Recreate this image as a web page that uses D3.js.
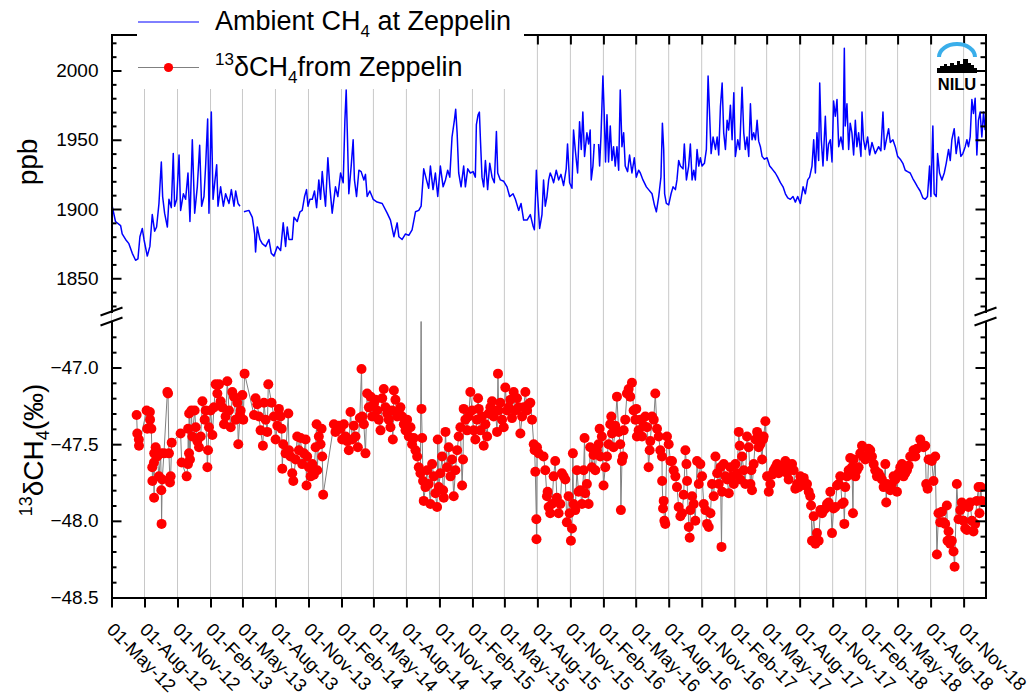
<!DOCTYPE html>
<html>
<head>
<meta charset="utf-8">
<title>Zeppelin CH4</title>
<script src="https://cdn.jsdelivr.net/npm/d3@7"></script>
<style>
body { margin: 0; background: #fff; }
svg { display: block; font-family: "Liberation Sans", Arial, sans-serif; }
</style>
</head>
<body>
<div id="chart"></div>
<script>
// Ambient CH4 at Zeppelin (decimal year, ppb); null = gap in record
var ch4Year = [
2012.336,2012.361,2012.400,2012.412,2012.438,2012.463,2012.489,2012.514,2012.532,2012.547,
2012.565,2012.578,2012.603,2012.623,2012.641,2012.659,2012.674,2012.692,2012.710,2012.720,
2012.735,2012.756,2012.768,2012.786,2012.801,2012.811,2012.827,2012.845,2012.857,2012.878,
2012.895,2012.913,2012.928,2012.946,2012.964,2012.984,2013.002,2013.017,2013.035,2013.048,
2013.063,2013.073,2013.091,2013.104,2013.117,2013.132,2013.142,2013.162,2013.183,2013.200,
2013.226,2013.244,2013.264,2013.277,2013.295,2013.310,2013.325,2013.340,2013.378,2013.404,
2013.422,2013.429,2013.442,2013.462,2013.480,2013.506,2013.531,2013.549,2013.569,2013.595,
2013.620,2013.640,2013.658,2013.671,2013.684,2013.709,2013.722,2013.747,2013.768,2013.785,
2013.803,2013.818,2013.829,2013.844,2013.862,2013.879,2013.895,2013.912,2013.925,2013.938,
2013.950,2013.963,2013.981,2013.996,2014.014,2014.039,2014.057,2014.078,2014.098,2014.111,
2014.121,2014.131,2014.141,2014.159,2014.174,2014.184,2014.200,2014.218,2014.235,2014.256,
2014.268,2014.281,2014.301,2014.327,2014.357,2014.396,2014.434,2014.459,2014.485,2014.510,
2014.523,2014.548,2014.574,2014.599,2014.624,2014.650,2014.675,2014.693,2014.713,2014.734,
2014.751,2014.764,2014.784,2014.802,2014.820,2014.840,2014.861,2014.879,2014.896,2014.912,
2014.929,2014.947,2014.957,2014.968,2014.980,2014.998,2015.018,2015.031,2015.049,2015.069,
2015.090,2015.107,2015.115,2015.128,2015.138,2015.146,2015.158,2015.171,2015.184,2015.201,
2015.217,2015.235,2015.252,2015.268,2015.278,2015.298,2015.324,2015.349,2015.369,2015.395,
2015.413,2015.438,2015.456,2015.476,2015.502,2015.527,2015.547,2015.558,2015.573,2015.583,
2015.598,2015.616,2015.628,2015.641,2015.654,2015.667,2015.679,2015.692,2015.705,2015.725,
2015.743,2015.761,2015.781,2015.801,2015.811,2015.827,2015.845,2015.857,2015.870,2015.888,
2015.903,2015.916,2015.928,2015.941,2015.959,2015.972,2015.984,2015.992,2016.005,2016.015,
2016.030,2016.048,2016.056,2016.066,2016.081,2016.091,2016.101,2016.112,2016.124,2016.137,
2016.150,2016.162,2016.175,2016.188,2016.201,2016.213,2016.226,2016.239,2016.251,2016.269,
2016.284,2016.302,2016.320,2016.335,2016.353,2016.366,2016.386,2016.412,2016.429,2016.455,
2016.473,2016.488,2016.506,2016.523,2016.534,2016.544,2016.551,2016.564,2016.582,2016.600,
2016.615,2016.633,2016.645,2016.658,2016.671,2016.691,2016.701,2016.717,2016.734,2016.747,
2016.760,2016.773,2016.785,2016.798,2016.811,2016.823,2016.836,2016.854,2016.869,2016.882,
2016.892,2016.905,2016.920,2016.938,2016.951,2016.963,2016.976,2016.989,2017.001,2017.014,
2017.027,2017.039,2017.052,2017.065,2017.078,2017.090,2017.108,2017.123,2017.141,2017.154,
2017.166,2017.179,2017.192,2017.205,2017.217,2017.230,2017.243,2017.256,2017.268,2017.281,
2017.294,2017.312,2017.332,2017.352,2017.370,2017.395,2017.413,2017.434,2017.454,2017.472,
2017.490,2017.510,2017.530,2017.548,2017.566,2017.586,2017.607,2017.624,2017.642,2017.657,
2017.675,2017.688,2017.701,2017.713,2017.726,2017.734,2017.746,2017.759,2017.777,2017.790,
2017.802,2017.815,2017.828,2017.840,2017.853,2017.866,2017.879,2017.896,2017.912,2017.922,
2017.929,2017.942,2017.955,2017.967,2017.980,2017.993,2018.006,2018.018,2018.031,2018.049,
2018.057,2018.069,2018.082,2018.100,2018.115,2018.133,2018.158,2018.184,2018.201,2018.217,
2018.229,2018.247,2018.260,2018.273,2018.293,2018.311,2018.329,2018.349,2018.369,2018.387,
2018.405,2018.425,2018.445,2018.463,2018.481,2018.501,2018.522,2018.540,2018.557,2018.573,
2018.583,2018.598,2018.608,2018.624,2018.634,2018.649,2018.667,2018.685,2018.700,2018.718,
2018.731,2018.743,2018.761,2018.776,2018.794,2018.812,2018.827,2018.845,2018.858,2018.870,
2018.883,2018.896,2018.908,2018.921,2018.934,2018.946,2018.959,2018.972,2018.985,2018.997
];
var ch4Ppb = [
1902,1891,1888,1882,1878,1875,1868,1863,1864,1880,
1886,1878,1866,1873,1896,1884,1887,1904,1934,1909,
1897,1887,1907,1901,1940,1902,1907,1939,1899,1911,
1907,1926,1891,1950,1897,1916,1946,1902,1909,1932,
1965,1897,1970,1907,1919,1932,1902,1916,1902,1911,
1904,1914,1902,1913,1904,1902,null,1898,1899,1894,
1882,1869,1887,1878,1875,1873,1878,1868,1866,1873,
1870,1890,1873,1887,1878,1878,1894,1891,1898,1899,
1909,1914,1902,1907,1907,1913,1901,1921,1907,1927,
1914,1902,1937,1916,1897,1916,1909,1926,1919,1964,
1986,1950,1911,1931,1950,1921,1909,1928,1927,1921,
1925,1909,1913,1907,1905,1904,1897,1892,1880,1890,
1880,1878,1882,1881,1885,1898,1899,1902,1929,1921,
1915,1931,1914,1926,1909,1931,1916,1921,1928,1923,
1952,1964,1972,1955,1926,1916,1931,1916,1929,1926,
1927,1923,1961,1968,1970,1950,1923,1916,1935,1914,
1933,1923,1919,1956,1926,1921,1920,1916,1909,1911,
1907,1899,1904,1892,1892,1896,1888,1885,1928,1909,
1886,1896,1921,1902,1909,1921,1926,1923,1919,1928,
1921,1925,1917,1929,1947,1919,1915,1957,1943,1926,
1963,1943,1970,1938,1955,1947,1957,1921,1931,1947,
null,1947,1931,1952,1996,1969,1934,1968,1934,1960,
1935,1945,1931,1945,1928,1986,1945,1955,1931,1927,
1939,1926,1937,1923,1928,1926,1921,1916,1914,1911,
1903,1898,1909,1923,1962,1943,1911,1904,1903,1911,
1916,1914,1921,1935,1931,1929,1947,1921,1931,1947,
1921,1928,1921,1943,1931,1937,1931,1933,1943,1996,
1972,1940,1952,1943,1952,1939,1974,1991,1955,1943,
1964,1957,1975,1950,1984,1938,1950,1943,1988,1955,
1943,1952,1938,1976,1950,1955,1950,1964,1949,1945,
1938,1936,1937,1931,1929,1926,1923,1919,1916,1911,
1908,1907,1909,1905,1909,1904,1916,1911,1921,1923,
1931,1950,1926,1955,1935,1991,1950,1931,1967,1935,
1947,1950,1934,1978,1967,1979,1945,1952,1943,2016,
1960,1976,1943,1962,1955,1939,1964,1945,1955,1938,
1970,1950,1943,1952,1939,1948,1940,1945,1942,1970,
1943,1952,1958,1948,1950,1945,1938,1936,1933,1928,
1927,1926,1922,1919,1916,1913,1908,1907,1909,1931,
1909,1960,1911,1909,1940,1926,1921,1926,1933,1943,
1935,1950,1958,1940,1952,1938,1940,1945,1950,1945,
1952,1979,1969,1980,1939,1964,1970,1952,1970,1957
];

// 13C isotope ratio of CH4 from Zeppelin (decimal year, permil)
var d13cYear = [
2012.522,2012.527,2012.539,2012.540,2012.598,2012.603,2012.623,2012.624,2012.634,2012.641,
2012.642,2012.654,2012.655,2012.656,2012.667,2012.679,2012.692,2012.705,2012.710,2012.712,
2012.717,2012.730,2012.756,2012.761,2012.768,2012.776,2012.781,2012.789,2012.857,2012.865,
2012.903,2012.913,2012.914,2012.921,2012.922,2012.928,2012.939,2012.946,2012.964,2012.972,
2012.984,2012.997,2013.010,2013.023,2013.040,2013.048,2013.061,2013.066,2013.073,2013.086,
2013.099,2013.111,2013.124,2013.137,2013.150,2013.162,2013.175,2013.188,2013.200,2013.213,
2013.226,2013.239,2013.251,2013.264,2013.277,2013.289,2013.297,2013.310,2013.315,2013.328,
2013.335,2013.345,2013.417,2013.429,2013.442,2013.455,2013.467,2013.485,2013.493,2013.506,
2013.518,2013.526,2013.551,2013.569,2013.582,2013.595,2013.607,2013.620,2013.628,2013.633,
2013.640,2013.658,2013.679,2013.684,2013.696,2013.709,2013.717,2013.735,2013.747,2013.760,
2013.773,2013.785,2013.798,2013.811,2013.818,2013.823,2013.836,2013.849,2013.862,2013.874,
2013.887,2013.895,2013.900,2013.912,2013.925,2013.933,2013.938,2013.945,2014.027,2014.039,
2014.065,2014.078,2014.090,2014.103,2014.116,2014.129,2014.141,2014.154,2014.167,2014.179,
2014.192,2014.210,2014.225,2014.238,2014.243,2014.256,2014.268,2014.281,2014.294,2014.307,
2014.319,2014.332,2014.345,2014.357,2014.370,2014.383,2014.396,2014.408,2014.421,2014.434,
2014.446,2014.459,2014.472,2014.477,2014.485,2014.497,2014.510,2014.523,2014.535,2014.548,
2014.561,2014.574,2014.586,2014.599,2014.612,2014.624,2014.637,2014.650,2014.663,2014.675,
2014.688,2014.693,2014.696,2014.701,2014.708,2014.713,2014.726,2014.739,2014.751,2014.764,
2014.777,2014.790,2014.802,2014.815,2014.820,2014.828,2014.840,2014.853,2014.861,2014.866,
2014.879,2014.891,2014.904,2014.917,2014.929,2014.942,2014.955,2014.968,2014.980,2014.993,
2015.006,2015.013,2015.018,2015.031,2015.044,2015.056,2015.069,2015.082,2015.095,2015.107,
2015.120,2015.128,2015.133,2015.146,2015.158,2015.171,2015.184,2015.197,2015.209,2015.222,
2015.235,2015.247,2015.260,2015.273,2015.280,2015.285,2015.298,2015.311,2015.324,2015.336,
2015.349,2015.362,2015.374,2015.387,2015.400,2015.413,2015.425,2015.438,2015.451,2015.464,
2015.476,2015.489,2015.502,2015.514,2015.527,2015.540,2015.553,2015.560,2015.565,2015.573,
2015.574,2015.578,2015.591,2015.628,2015.641,2015.654,2015.659,2015.667,2015.679,2015.692,
2015.705,2015.717,2015.730,2015.743,2015.756,2015.768,2015.781,2015.794,2015.806,2015.819,
2015.827,2015.837,2015.845,2015.852,2015.857,2015.870,2015.883,2015.895,2015.908,2015.921,
2015.934,2015.941,2015.946,2015.959,2015.972,2015.984,2015.997,2016.010,2016.023,2016.035,
2016.048,2016.056,2016.061,2016.073,2016.086,2016.099,2016.112,2016.124,2016.137,2016.145,
2016.150,2016.162,2016.175,2016.188,2016.201,2016.213,2016.218,2016.226,2016.234,2016.239,
2016.251,2016.264,2016.277,2016.289,2016.302,2016.315,2016.328,2016.335,2016.340,2016.353,
2016.366,2016.379,2016.391,2016.404,2016.417,2016.429,2016.437,2016.442,2016.455,2016.468,
2016.480,2016.493,2016.506,2016.518,2016.531,2016.532,2016.539,2016.544,2016.549,2016.556,
2016.569,2016.582,2016.595,2016.607,2016.620,2016.633,2016.645,2016.658,2016.671,2016.684,
2016.696,2016.709,2016.717,2016.722,2016.735,2016.742,2016.747,2016.760,2016.773,2016.785,
2016.798,2016.811,2016.823,2016.836,2016.849,2016.862,2016.874,2016.887,2016.900,2016.912,
2016.925,2016.938,2016.951,2016.963,2016.976,2016.984,2016.989,2017.001,2017.014,2017.027,
2017.040,2017.052,2017.065,2017.078,2017.090,2017.103,2017.116,2017.123,2017.128,2017.141,
2017.154,2017.166,2017.179,2017.192,2017.205,2017.212,2017.217,2017.230,2017.243,2017.256,
2017.268,2017.281,2017.294,2017.301,2017.306,2017.319,2017.332,2017.345,2017.357,2017.370,
2017.383,2017.396,2017.408,2017.421,2017.434,2017.446,2017.459,2017.472,2017.485,2017.497,
2017.510,2017.523,2017.535,2017.548,2017.561,2017.574,2017.586,2017.599,2017.612,2017.624,
2017.637,2017.650,2017.662,2017.668,2017.675,2017.688,2017.701,2017.713,2017.726,2017.739,
2017.752,2017.764,2017.777,2017.790,2017.802,2017.815,2017.828,2017.840,2017.853,2017.866,
2017.879,2017.891,2017.904,2017.917,2017.922,2017.929,2017.942,2017.955,2017.967,2017.980,
2017.988,2017.993,2018.006,2018.018,2018.031,2018.044,2018.057,2018.064,2018.082,2018.095,
2018.107,2018.120,2018.133,2018.146,2018.158,2018.171,2018.184,2018.196,2018.209,2018.222,
2018.235,2018.242,2018.247,2018.260,2018.273,2018.285,2018.298,2018.311,2018.324,2018.336,
2018.349,2018.362,2018.374,2018.387,2018.400,2018.413,2018.425,2018.438,2018.451,2018.464,
2018.476,2018.502,2018.514,2018.527,2018.540,2018.547,2018.558,2018.565,2018.578,2018.590,
2018.603,2018.616,2018.629,2018.641,2018.654,2018.667,2018.680,2018.692,2018.705,2018.710,
2018.718,2018.730,2018.743,2018.756,2018.764,2018.781,2018.794,2018.807,2018.819,2018.832,
2018.845,2018.858,2018.870,2018.883,2018.896,2018.908,2018.921,2018.934,2018.947,2018.954,
2018.964,2018.972
];
var d13cValue = [
-47.31,-47.43,-47.47,-47.51,-47.28,-47.40,-47.29,-47.34,-47.40,-47.65,
-47.74,-47.62,-47.85,-47.56,-47.52,-47.58,-47.71,-47.56,-47.80,-48.02,
-47.73,-47.56,-47.16,-47.17,-47.56,-47.75,-47.71,-47.49,-47.43,-47.62,
-47.71,-47.63,-47.40,-47.56,-47.30,-47.60,-47.28,-47.45,-47.28,-47.39,
-47.48,-47.52,-47.45,-47.22,-47.34,-47.28,-47.65,-47.54,-47.39,-47.28,
-47.44,-47.26,-47.11,-47.17,-47.11,-47.22,-47.26,-47.37,-47.32,-47.09,
-47.28,-47.39,-47.16,-47.19,-47.34,-47.23,-47.50,-47.31,-47.28,-47.18,
-47.34,-47.04,-47.31,-47.20,-47.24,-47.32,-47.41,-47.51,-47.23,-47.34,
-47.42,-47.11,-47.23,-47.32,-47.47,-47.38,-47.27,-47.32,-47.40,-47.66,
-47.50,-47.56,-47.30,-47.54,-47.58,-47.69,-47.74,-47.60,-47.45,-47.54,
-47.46,-47.63,-47.56,-47.47,-47.77,-47.58,-47.65,-47.71,-47.63,-47.70,
-47.52,-47.37,-47.67,-47.45,-47.50,-47.40,-47.58,-47.83,-47.37,-47.42,
-47.38,-47.40,-47.47,-47.37,-47.45,-47.48,-47.54,-47.29,-47.47,-47.38,
-47.45,-47.52,-47.33,-47.01,-47.32,-47.37,-47.56,-47.17,-47.26,-47.19,
-47.32,-47.24,-47.21,-47.28,-47.34,-47.41,-47.20,-47.14,-47.26,-47.30,
-47.34,-47.39,-47.28,-47.47,-47.15,-47.21,-47.32,-47.28,-47.26,-47.32,
-47.37,-47.41,-47.34,-47.45,-47.39,-47.50,-47.46,-47.54,-47.58,-47.65,
-47.69,-46.55,-47.27,-47.46,-47.74,-47.87,-47.78,-47.67,-47.76,-47.89,
-47.63,-47.71,-47.82,-47.91,-47.47,-47.78,-47.69,-47.58,-47.80,-47.85,
-47.42,-47.65,-47.52,-47.71,-47.60,-47.84,-47.67,-47.54,-47.45,-47.39,
-47.77,-47.60,-47.27,-47.34,-47.41,-47.32,-47.16,-47.28,-47.41,-47.47,
-47.34,-47.20,-47.27,-47.41,-47.32,-47.51,-47.37,-47.45,-47.30,-47.26,
-47.22,-47.32,-47.28,-47.42,-47.04,-47.28,-47.23,-47.34,-47.39,-47.13,
-47.28,-47.26,-47.21,-47.33,-47.16,-47.28,-47.20,-47.26,-47.43,-47.32,
-47.26,-47.16,-47.28,-47.24,-47.23,-47.34,-47.50,-47.54,-47.68,-47.99,
-48.12,-47.52,-47.56,-47.58,-47.67,-47.84,-47.81,-47.91,-47.95,-47.89,
-47.71,-47.61,-47.85,-47.95,-47.89,-47.69,-47.71,-47.73,-48.01,-47.84,
-47.95,-48.13,-48.05,-47.56,-47.89,-47.93,-47.67,-47.81,-47.80,-47.89,
-47.67,-47.46,-47.82,-47.76,-47.89,-47.52,-47.65,-47.57,-47.67,-47.54,
-47.50,-47.40,-47.58,-47.45,-47.77,-47.65,-47.58,-47.50,-47.37,-47.32,
-47.43,-47.52,-47.38,-47.19,-47.42,-47.50,-47.93,-47.61,-47.58,-47.41,
-47.34,-47.17,-47.14,-47.19,-47.10,-47.28,-47.34,-47.27,-47.45,-47.41,
-47.34,-47.45,-47.38,-47.32,-47.39,-47.65,-47.54,-47.48,-47.32,-47.34,
-47.17,-47.40,-47.45,-47.54,-47.58,-47.74,-47.92,-47.87,-48.00,-48.02,
-47.45,-47.50,-47.61,-47.61,-47.67,-47.71,-47.78,-47.91,-47.97,-47.95,
-47.83,-47.54,-47.63,-47.74,-48.04,-48.11,-47.93,-47.84,-47.89,-48.00,
-47.61,-47.76,-47.63,-47.71,-47.89,-47.93,-48.02,-48.04,-47.95,-47.76,
-47.84,-47.58,-47.69,-47.76,-47.65,-48.17,-47.81,-47.63,-47.71,-47.73,
-47.82,-47.65,-47.71,-47.76,-47.63,-47.69,-47.42,-47.51,-47.73,-47.58,
-47.67,-47.76,-47.45,-47.52,-47.76,-47.67,-47.80,-47.63,-47.47,-47.42,
-47.52,-47.50,-47.60,-47.47,-47.45,-47.35,-47.71,-47.81,-47.76,-47.70,
-47.67,-47.65,-47.63,-47.69,-47.65,-47.64,-47.65,-47.61,-47.69,-47.73,
-47.66,-47.63,-47.67,-47.79,-47.76,-47.78,-47.71,-47.75,-47.72,-47.77,
-47.76,-47.81,-47.84,-47.90,-48.13,-47.97,-48.15,-48.08,-48.13,-47.93,
-47.95,-47.93,-47.92,-47.89,-47.88,-47.81,-48.08,-47.92,-47.91,-47.77,
-47.76,-47.71,-47.89,-47.88,-48.02,-47.78,-47.71,-47.67,-47.59,-47.65,
-47.95,-47.60,-47.71,-47.67,-47.65,-47.56,-47.51,-47.58,-47.60,-47.58,
-47.53,-47.54,-47.58,-47.63,-47.67,-47.71,-47.69,-47.71,-47.73,-47.78,
-47.63,-47.88,-47.76,-47.78,-47.80,-47.76,-47.71,-47.73,-47.81,-47.69,
-47.65,-47.63,-47.71,-47.69,-47.67,-47.64,-47.58,-47.58,-47.54,-47.58,
-47.53,-47.47,-47.50,-47.52,-47.51,-47.76,-47.79,-47.60,-47.60,-47.61,
-47.74,-47.58,-48.22,-47.95,-48.01,-47.94,-48.01,-48.02,-47.90,-48.13,
-48.07,-48.15,-48.13,-48.20,-48.30,-47.76,-47.99,-47.93,-47.88,-48.00,
-48.05,-48.06,-47.91,-47.88,-48.00,-48.07,-48.02,-47.87,-47.78,-47.95,
-47.78,-47.87
];

var ppbMajor = [1850, 1900, 1950, 2000];
var ppbMinor = [1830, 1840, 1860, 1870, 1880, 1890, 1910, 1920, 1930, 1940, 1960, 1970, 1980, 1990, 2010, 2020];
var d13cMajor = [-48.5, -48.0, -47.5, -47.0];
var d13cMinor = [-48.4, -48.3, -48.2, -48.1, -47.9, -47.8, -47.7, -47.6, -47.4, -47.3, -47.2, -47.1, -46.9, -46.8];

var W = 1031, H = 698;
var plotLeft = 111.5, plotRight = 985.5, plotTop = 34.5, plotBottom = 597.5;
var upperBottom = 311.5, lowerTop = 321.5;
var font = "'Liberation Sans', Arial, sans-serif";

function yearToDate(y) {
  var yr = Math.floor(y);
  var a = Date.UTC(yr, 0, 1), b = Date.UTC(yr + 1, 0, 1);
  return new Date(a + (y - yr) * (b - a));
}

var x = d3.scaleUtc()
  .domain([new Date(Date.UTC(2012, 4, 1)), new Date(Date.UTC(2019, 0, 1))])
  .range([plotLeft, plotRight]);
var yTop = d3.scaleLinear().domain([1826, 2026]).range([upperBottom, plotTop]);
var yBot = d3.scaleLinear().domain([-48.5, -46.7]).range([plotBottom, lowerTop]);

var xTicks = d3.utcMonth.range(new Date(Date.UTC(2012, 4, 1)), new Date(Date.UTC(2018, 11, 1)), 3);

var svg = d3.select("#chart").append("svg").attr("width", W).attr("height", H);

var defs = svg.append("defs");
defs.append("clipPath").attr("id", "clipTop").append("rect")
  .attr("x", plotLeft).attr("y", plotTop).attr("width", plotRight - plotLeft).attr("height", upperBottom - plotTop);
defs.append("clipPath").attr("id", "clipBot").append("rect")
  .attr("x", plotLeft).attr("y", lowerTop).attr("width", plotRight - plotLeft).attr("height", plotBottom - lowerTop);

// vertical grid
svg.append("g").selectAll("line").data(xTicks).join("line")
  .attr("x1", function(d) { return x(d); }).attr("x2", function(d) { return x(d); })
  .attr("y1", plotTop).attr("y2", plotBottom)
  .attr("stroke", "#c8c8c8").attr("stroke-width", 1);

// upper panel: ambient CH4
var ch4 = ch4Year.map(function(yr, i) { return { date: yearToDate(yr), v: ch4Ppb[i] }; });
svg.append("path").datum(ch4)
  .attr("clip-path", "url(#clipTop)")
  .attr("fill", "none").attr("stroke", "#0000ff").attr("stroke-width", 1.5)
  .attr("stroke-linejoin", "round")
  .attr("d", d3.line()
    .defined(function(d) { return d.v !== null; })
    .x(function(d) { return x(d.date); })
    .y(function(d) { return yTop(d.v); }));

// lower panel: d13C
var iso = d13cYear.map(function(yr, i) { return { date: yearToDate(yr), v: d13cValue[i] }; });
var lower = svg.append("g").attr("clip-path", "url(#clipBot)");
lower.append("path").datum(iso)
  .attr("fill", "none").attr("stroke", "#808080").attr("stroke-width", 1)
  .attr("d", d3.line().x(function(d) { return x(d.date); }).y(function(d) { return yBot(d.v); }));
lower.selectAll("circle").data(iso).join("circle")
  .attr("cx", function(d) { return x(d.date); })
  .attr("cy", function(d) { return yBot(d.v); })
  .attr("r", 5).attr("fill", "#ff0000");

function styleAxis(g, size) {
  g.attr("font-family", font).attr("font-size", size);
  g.selectAll("path.domain").attr("stroke", "#000").attr("stroke-width", 2).attr("stroke-linecap", "square");
  g.selectAll(".tick line").attr("stroke", "#000").attr("stroke-width", 2);
  g.selectAll(".tick text").attr("fill", "#000");
}

// bottom axis with rotated date labels
var xb = svg.append("g").attr("transform", "translate(0," + plotBottom + ")")
  .call(d3.axisBottom(x).tickValues(xTicks).tickSizeInner(10).tickSizeOuter(0)
    .tickFormat(d3.utcFormat("%d-%b-%y")));
styleAxis(xb, 18.5);
xb.selectAll(".tick text")
  .attr("x", 0).attr("y", 0).attr("dy", "0.71em")
  .attr("text-anchor", "start")
  .attr("transform", "translate(3,24) rotate(45)");

// top axis
var xt = svg.append("g").attr("transform", "translate(0," + plotTop + ")")
  .call(d3.axisTop(x).tickValues(xTicks).tickSizeInner(-10).tickSizeOuter(0).tickFormat(""));
styleAxis(xt, 10);

// left / right axes for both panels
function yAxes(scale, major, minor, fmt) {
  var l = svg.append("g").attr("transform", "translate(" + plotLeft + ",0)")
    .call(d3.axisLeft(scale).tickValues(major).tickSizeInner(-10).tickSizeOuter(0).tickPadding(13).tickFormat(fmt));
  styleAxis(l, 19);
  var lm = svg.append("g").attr("transform", "translate(" + plotLeft + ",0)")
    .call(d3.axisLeft(scale).tickValues(minor).tickSizeInner(-5).tickSizeOuter(0).tickFormat(""));
  styleAxis(lm, 10);
  var r = svg.append("g").attr("transform", "translate(" + plotRight + ",0)")
    .call(d3.axisRight(scale).tickValues(major).tickSizeInner(-10).tickSizeOuter(0).tickFormat(""));
  styleAxis(r, 10);
  var rm = svg.append("g").attr("transform", "translate(" + plotRight + ",0)")
    .call(d3.axisRight(scale).tickValues(minor).tickSizeInner(-5).tickSizeOuter(0).tickFormat(""));
  styleAxis(rm, 10);
}
yAxes(yTop, ppbMajor, ppbMinor, d3.format("d"));
yAxes(yBot, d13cMajor, d13cMinor, d3.format(".1f"));

// axis break marks
[plotLeft, plotRight].forEach(function(ax) {
  [upperBottom, lowerTop].forEach(function(yy) {
    svg.append("line")
      .attr("x1", ax - 11).attr("y1", yy + 4).attr("x2", ax + 11).attr("y2", yy - 4)
      .attr("stroke", "#000").attr("stroke-width", 2);
  });
});

// axis titles
svg.append("text")
  .attr("transform", "translate(37,162) rotate(-90)")
  .attr("text-anchor", "middle").attr("font-family", font).attr("font-size", 28)
  .text("ppb");

var yt = svg.append("text")
  .attr("transform", "translate(43,450) rotate(-90)")
  .attr("text-anchor", "middle").attr("font-family", font).attr("font-size", 28);
yt.append("tspan").attr("font-size", 18).attr("dy", -11).text("13");
yt.append("tspan").attr("dy", 11).text("δCH");
yt.append("tspan").attr("font-size", 18).attr("dy", 6).text("4");
yt.append("tspan").attr("dy", -6).text("(‰)");

// legend
var lg = svg.append("g");
lg.append("rect").attr("x", 137).attr("y", 0).attr("width", 387).attr("height", 89).attr("fill", "#fff");
lg.append("line").attr("x1", 138).attr("x2", 199).attr("y1", 22).attr("y2", 22)
  .attr("stroke", "#0000ff").attr("stroke-width", 1);
var t1 = lg.append("text").attr("x", 215).attr("y", 30).attr("font-family", font).attr("font-size", 27);
t1.append("tspan").text("Ambient CH");
t1.append("tspan").attr("font-size", 17).attr("dy", 7).text("4");
t1.append("tspan").attr("dy", -7).text(" at Zeppelin");

lg.append("line").attr("x1", 138).attr("x2", 199).attr("y1", 67.5).attr("y2", 67.5)
  .attr("stroke", "#808080").attr("stroke-width", 1);
lg.append("circle").attr("cx", 168.5).attr("cy", 67.5).attr("r", 4.6).attr("fill", "#ff0000");
var t2 = lg.append("text").attr("x", 215).attr("y", 76).attr("font-family", font).attr("font-size", 27);
t2.append("tspan").attr("font-size", 17).attr("dy", -11).text("13");
t2.append("tspan").attr("dy", 11).text("δCH");
t2.append("tspan").attr("font-size", 17).attr("dy", 7).text("4");
t2.append("tspan").attr("dy", -7).text("from Zeppelin");

// NILU logo
var logo = svg.append("g").attr("transform", "translate(937,42)");
logo.append("path").attr("d", "M2,15 A18,13 0 0 1 38,15")
  .attr("fill", "none").attr("stroke", "#3aaeea").attr("stroke-width", 4);
logo.append("path")
  .attr("d", "M0,31 V26 H3 V24 H7 V22 H10 V24 H13 V21 H17 V23 H20 V19 H23 V22 H26 V17 H31 V21 H34 V23 H37 V26 H40 V31 Z")
  .attr("fill", "#000");
logo.append("text").attr("x", 20).attr("y", 48).attr("text-anchor", "middle")
  .attr("font-family", font).attr("font-weight", "bold").attr("font-size", 16.5)
  .text("NILU");
</script>
</body>
</html>
